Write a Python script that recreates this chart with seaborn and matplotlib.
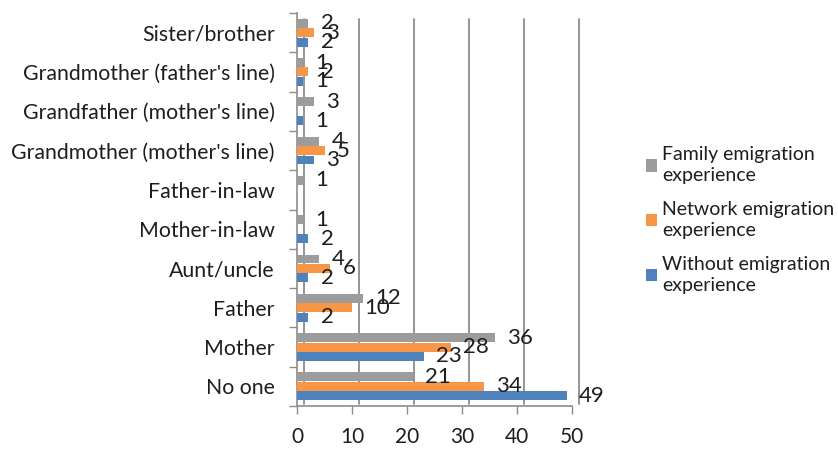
import numpy as np
import pandas as pd
import matplotlib
matplotlib.use('Agg')
import matplotlib.pyplot as plt
import matplotlib.transforms as mtrans
import seaborn as sns

# Data (top to bottom as shown in the chart)
categories = ["Sister/brother", "Grandmother (father's line)", "Grandfather (mother's line)",
              "Grandmother (mother's line)", "Father-in-law", "Mother-in-law", "Aunt/uncle",
              "Father", "Mother", "No one"]
family = [2, 1, 3, 4, 1, 1, 4, 12, 36, 21]
network = [3, 2, 0, 5, 0, 0, 6, 10, 28, 34]
without = [2, 1, 1, 3, 0, 2, 2, 2, 23, 49]
series = ["Family emigration\nexperience", "Network emigration\nexperience",
          "Without emigration\nexperience"]
colors = ['#9c9c9c', '#f79646', '#4f81bd']
x_ticks = [0, 10, 20, 30, 40, 50]

df = pd.DataFrame({'category': categories * 3,
                   'value': family + network + without,
                   'series': [series[0]] * 10 + [series[1]] * 10 + [series[2]] * 10})

sns.set_theme(style="white")
plt.rcParams['font.family'] = ['Lato', 'DejaVu Sans']
text_color = '#1e1e1e'
line_color = '#8c8c8c'

fig = plt.figure(figsize=(8.38, 4.49), dpi=100)
ax = fig.add_axes([297 / 838, 1 - 406 / 449, (572 - 297) / 838, (406 - 13) / 449])

sns.barplot(data=df, x='value', y='category', hue='series', hue_order=series,
            order=categories, palette=colors, saturation=1, orient='h', width=0.72,
            gap=0.05, linewidth=0, ax=ax, zorder=3)

for cont in ax.containers:
    vals = cont.datavalues
    ax.bar_label(cont, labels=[str(int(v)) if v else '' for v in vals],
                 padding=9, fontsize=16, color=text_color)

ax.set_xlim(0, 50)
ax.set_ylim(9.5, -0.5)
ax.set_xticks(x_ticks)
ax.set_xlabel('')
ax.set_ylabel('')

# back-wall grid lines (shifted to mimic the 3D depth)
shift = mtrans.offset_copy(ax.get_xaxis_transform(), fig=fig, x=7, y=0, units='dots')
for v in x_ticks:
    ax.plot([v, v], [0.005, 0.985], transform=shift, color=line_color, lw=1.3,
            zorder=1, clip_on=False)

for side in ['top', 'right']:
    ax.spines[side].set_visible(False)
for side in ['left', 'bottom']:
    ax.spines[side].set_color(line_color)
    ax.spines[side].set_linewidth(1.2)

ax.set_yticks(np.arange(-0.5, 10, 1), minor=True)
ax.tick_params(axis='y', which='minor', length=6, width=1, color=line_color, left=True)
ax.tick_params(axis='y', which='major', length=0, pad=16, labelsize=15.3, labelcolor=text_color)
ax.tick_params(axis='x', which='major', length=6, width=1, color=line_color, bottom=True,
               pad=9, labelsize=15, labelcolor=text_color)

handles, labels = ax.get_legend_handles_labels()
ax.get_legend().remove()
leg = fig.legend(handles, labels, loc='center left', bbox_to_anchor=(628 / 838, 1 - 220 / 449),
                 frameon=False, fontsize=14, labelcolor=text_color, handlelength=0.6,
                 handleheight=0.6, handletextpad=0.25, labelspacing=0.85)
for t in leg.get_texts():
    t.set_linespacing(1.3)

fig.savefig('out.png', dpi=100)
